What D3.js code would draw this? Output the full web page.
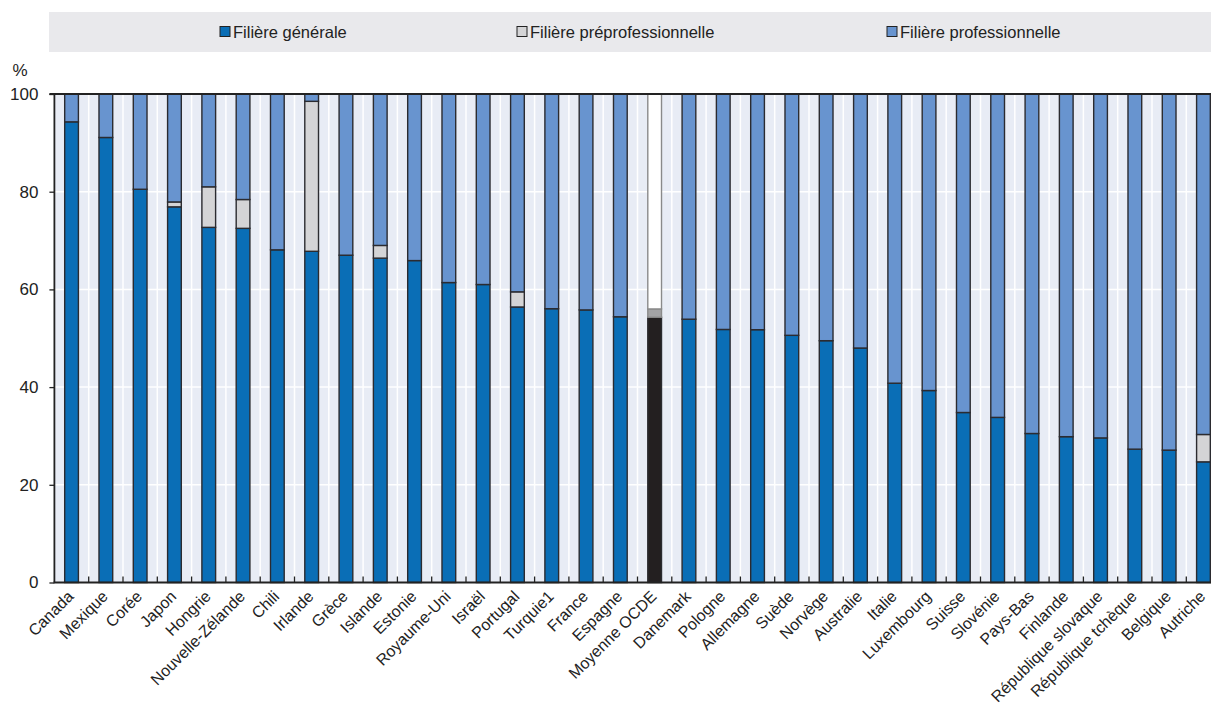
<!DOCTYPE html>
<html><head><meta charset="utf-8">
<script src="https://cdn.jsdelivr.net/npm/d3@7"></script>
<style>
html,body{margin:0;padding:0;background:#fff;}
svg{display:block;font-family:"Liberation Sans",Arial,Helvetica,sans-serif;}
</style></head>
<body>
<svg id="c" width="1211" height="706"></svg>
<script>
const categories = ["Canada","Mexique","Corée","Japon","Hongrie","Nouvelle-Zélande","Chili","Irlande","Grèce","Islande","Estonie","Royaume-Uni","Israël","Portugal","Turquie1","France","Espagne","Moyenne OCDE","Danemark","Pologne","Allemagne","Suède","Norvège","Australie","Italie","Luxembourg","Suisse","Slovénie","Pays-Bas","Finlande","République slovaque","République tchèque","Belgique","Autriche"];
const generale = [94.3,91.1,80.5,76.9,72.7,72.5,68.1,67.8,67.0,66.4,65.9,61.4,61.0,56.4,56.05,55.8,54.4,54.3,53.9,51.8,51.75,50.6,49.5,48.0,40.8,39.3,34.8,33.8,30.5,29.85,29.6,27.3,27.1,24.7];
const preprofessionnelle = [0,0,0,1.0,8.3,5.9,0,30.7,0,2.6,0,0,0,3.1,0,0,0,1.7,0,0,0,0,0,0,0,0,0,0,0,0,0,0,0,5.6];
const professionnelle = categories.map((c,i)=>+(100 - generale[i] - preprofessionnelle[i]).toFixed(2));
const yTicks = [0,20,40,60,80,100];
const seriesNames = ["Filière générale","Filière préprofessionnelle","Filière professionnelle"];
const seriesKeys = ["gen","pre","pro"];
const colors = {gen:"#0a6eb6", pre:"#d4d4d6", pro:"#6894cf"};
const avgColors = {gen:"#231f20", pre:"#a3a3a5", pro:"#ffffff"};
const avgName = "Moyenne OCDE";

(function(){
const svg = d3.select("#c");
const L = 54.4, R = 1220.6, T = 94, B = 582.5;
const FONT = "Liberation Sans, Arial, sans-serif";

svg.append("rect").attr("x",49).attr("y",12).attr("width",1162).attr("height",40).attr("fill","#e9e9ec");
const legendX = [220, 517, 887];
seriesKeys.forEach((k,i)=>{
  const g = svg.append("g").attr("transform",`translate(${legendX[i]},32)`);
  g.append("rect").attr("x",0).attr("y",-5.5).attr("width",10).attr("height",10)
    .attr("fill",colors[k]).attr("stroke","#222").attr("stroke-width",1);
  g.append("text").attr("x",13).attr("y",0).attr("dy","0.35em").attr("font-size",16.5)
    .attr("fill","#222").text(seriesNames[i]);
});

const x = d3.scaleBand().domain(categories).range([L,R]).padding(0);
const y = d3.scaleLinear().domain([0,100]).range([B,T]);

svg.append("rect").attr("x",L).attr("y",T).attr("width",R-L).attr("height",B-T).attr("fill","#e8ecf5");
svg.append("g").selectAll("line").data(yTicks.filter(d=>d>0&&d<100)).join("line")
  .attr("x1",L).attr("x2",R).attr("y1",d=>y(d)).attr("y2",d=>y(d))
  .attr("stroke","#fff").attr("stroke-width",1.5);
svg.append("g").selectAll("line").data(categories.slice(1)).join("line")
  .attr("x1",d=>x(d)).attr("x2",d=>x(d)).attr("y1",T).attr("y2",B)
  .attr("stroke","#fff").attr("stroke-width",1.5);

const rows = categories.map((c,i)=>({cat:c, gen:generale[i], pre:preprofessionnelle[i], pro:professionnelle[i]}));
const stack = d3.stack().keys(seriesKeys)(rows);
const bw = x.bandwidth()*0.4;
const barX = d => x(d.data.cat) + x.bandwidth()/2 - bw/2;

stack.forEach(s=>{
  svg.append("g").selectAll("rect").data(s.filter(d=>d[1]-d[0]>0)).join("rect")
    .attr("x",barX).attr("width",bw)
    .attr("y",d=>y(d[1])).attr("height",d=>y(d[0])-y(d[1]))
    .attr("fill",d=>d.data.cat===avgName?avgColors[s.key]:colors[s.key])
    .attr("stroke",d=>d.data.cat===avgName && s.key!=="gen" ? "#8a8a8a" : "#2b2b30")
    .attr("stroke-width",1.4);
});

svg.append("line").attr("x1",L).attr("x2",R).attr("y1",T).attr("y2",T).attr("stroke","#222").attr("stroke-width",1.8);

const yAxis = d3.axisLeft(y).tickValues(yTicks).tickSize(5).tickPadding(11);
const ya = svg.append("g").attr("transform",`translate(${L},0)`).call(yAxis);
ya.select(".domain").attr("stroke","#222").attr("stroke-width",1.8).attr("d",`M-5,${T}H0V${B}`);
ya.selectAll(".tick line").attr("stroke","#222").attr("stroke-width",1.3);
ya.selectAll(".tick text").attr("font-size",17).attr("fill","#222").attr("font-family",FONT);
svg.append("text").attr("x",20).attr("y",70).attr("dy","0.35em").attr("text-anchor","middle").attr("font-size",17).attr("fill","#222").text("%");

const xAxis = d3.axisBottom(x).tickSize(0).tickPadding(0);
const xa = svg.append("g").attr("transform",`translate(0,${B})`).call(xAxis);
xa.select(".domain").remove();
xa.selectAll(".tick text")
  .attr("font-size",16).attr("fill","#222").attr("font-family",FONT)
  .attr("text-anchor","end").attr("dy","0.35em")
  .attr("transform","translate(-1,11) rotate(-45)");
svg.append("g").selectAll("line").data(categories.slice(1)).join("line")
  .attr("x1",d=>x(d)).attr("x2",d=>x(d)).attr("y1",B).attr("y2",B-6)
  .attr("stroke","#222").attr("stroke-width",1.3);
svg.append("line").attr("x1",L-0.9).attr("x2",R).attr("y1",B).attr("y2",B).attr("stroke","#222").attr("stroke-width",2.2);
})();
</script>
</body></html>
